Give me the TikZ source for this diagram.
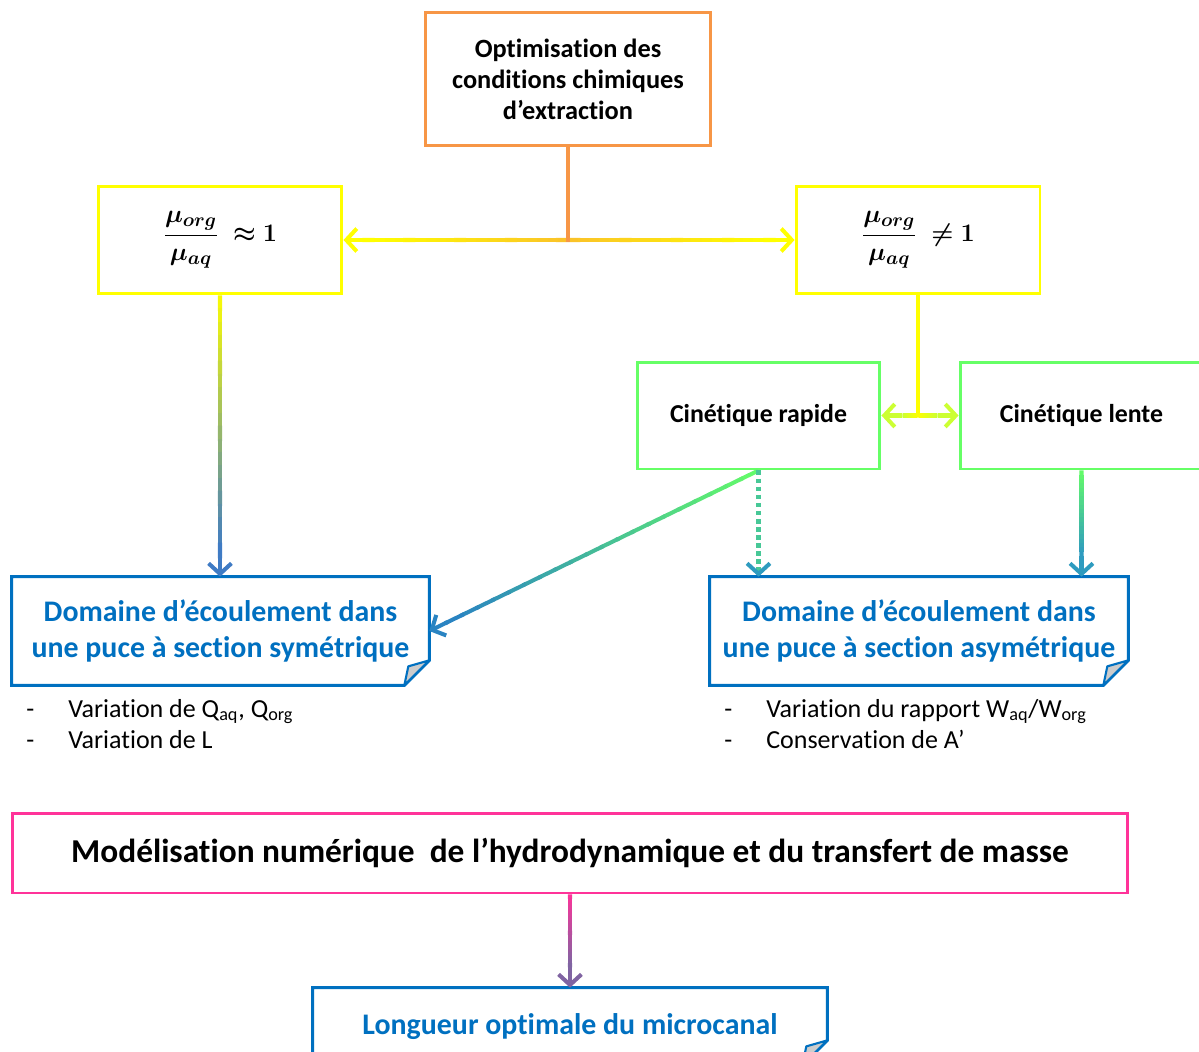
\documentclass[tikz,border=0pt]{standalone}
\usepackage{amsmath,amssymb}
\usepackage[no-math]{fontspec}
\setmainfont{Carlito}[Ligatures={NoCommon}]
\usepackage{tikz}
\usetikzlibrary{arrows.meta, positioning, calc}

\definecolor{myorange}{HTML}{F79646}
\definecolor{myyellow}{HTML}{FFFF00}
\definecolor{mylime}{HTML}{CCFF33}
\definecolor{mygreen}{HTML}{66FF66}
\definecolor{myblue}{HTML}{0070C0}
\definecolor{steel}{HTML}{3F7BC4}
\definecolor{diagblue}{HTML}{2A84C2}
\definecolor{myteal}{HTML}{2E9BBF}
\definecolor{mypink}{HTML}{FF3399}
\definecolor{mypurple}{HTML}{8064A2}

% connector that fades from one colour to another
\newcommand{\gradarrow}[4]{%
  \coordinate (gtip) at ($(#2)!0.42cm!(#1)$);
  \foreach \k in {1,...,20}{%
    \pgfmathsetmacro{\fa}{(\k-1)/20}%
    \pgfmathsetmacro{\fb}{\k/20+0.01}%
    \pgfmathtruncatemacro{\mix}{100*\k/20}%
    \draw[conn, #4!\mix!#3] ($(#1)!\fa!(gtip)$) -- ($(#1)!\fb!(gtip)$);
  }%
  \draw[conn, tip, #4] (gtip) -- (#2);
}
% note border with folded corner
\newcommand{\dogear}[1]{%
  \draw[noteline] (#1.north west) -- (#1.north east) -- ([yshift=0.5cm]#1.south east)
    -- ([xshift=-0.5cm]#1.south east) -- (#1.south west) -- cycle;
  \filldraw[fold] ([yshift=0.5cm]#1.south east) -- ([xshift=-0.5cm]#1.south east)
    -- ([xshift=-0.42cm,yshift=0.38cm]#1.south east) -- cycle;
}
\newcommand{\ratio}{\displaystyle\boldsymbol{\frac{\mu_{org}}{\mu_{aq}}}}

\begin{document}
\begin{tikzpicture}[x=0.02cm, y=-0.02cm,
    conn/.style={line width=2.3pt},
    tip/.style={-{Straight Barb[length=6pt,width=13pt]}},
    startbox/.style={draw=myorange, line width=1.7pt, minimum width=5.72cm,
                     minimum height=2.68cm, align=center,
                     font=\fontsize{15}{17.6}\selectfont\bfseries},
    ratiobox/.style={draw=myyellow, line width=1.7pt, minimum width=4.88cm,
                     minimum height=2.16cm, font=\fontsize{15}{17}\selectfont},
    kinbox/.style={draw=mygreen, line width=1.7pt, minimum width=4.86cm,
                   minimum height=2.14cm, font=\fontsize{14.7}{16}\selectfont\bfseries},
    notebox/.style={minimum height=2.16cm, align=center, text=myblue,
                    font=\fontsize{17}{20.4}\selectfont\bfseries},
    noteline/.style={draw=myblue, line width=1.7pt, line join=miter},
    fold/.style={draw=myblue, fill=gray!40, line width=1.2pt, line join=round},
    modelbox/.style={draw=mypink, line width=1.7pt, minimum width=22.32cm,
                     minimum height=1.6cm, font=\fontsize{19}{22}\selectfont\bfseries},
    listtxt/.style={anchor=west, align=left, inner sep=0pt,
                    font=\fontsize{14.8}{18}\selectfont}
  ]
  \useasboundingbox (0,0) rectangle (1199,1051);
  \clip (0,0) rectangle (1199,1051);

  % Boxes
  \node[startbox] (opt) at (568,79) {Optimisation des\\conditions chimiques\\d’extraction};
  \node[ratiobox] (rsim) at (220,240)
    {\raisebox{-3pt}{$\ratio\;\boldsymbol{\approx}\mathbf{1}$}};
  \node[ratiobox] (rdif) at (918,240)
    {\raisebox{-3pt}{$\ratio\;\boldsymbol{\neq}\mathbf{1}$}};
  \node[kinbox] (kfast) at (758.5,415.5) {Cinétique rapide};
  \node[kinbox] (kslow) at (1081.5,415.5) {Cinétique lente};

  \node[notebox, minimum width=8.34cm] (dsym) at (220.5,631)
    {Domaine d’écoulement dans\\une puce à section symétrique};
  \node[notebox, minimum width=8.36cm] (dasym) at (919,631)
    {Domaine d’écoulement dans\\une puce à section asymétrique};
  \dogear{dsym}
  \dogear{dasym}

  % Lists under the notes
  \node[listtxt] (lsym) at (26,724)
    {\makebox[0.84cm][l]{-}Variation de Q\textsubscript{aq}, Q\textsubscript{org}\\
     \makebox[0.84cm][l]{-}Variation de L};
  \node[listtxt] (lasym) at (724,724)
    {\makebox[0.84cm][l]{-}Variation du rapport W\textsubscript{aq}/W\textsubscript{org}\\
     \makebox[0.84cm][l]{-}Conservation de A’};

  \node[modelbox] (model) at (570,853)
    {Modélisation numérique\ \ de l’hydrodynamique et du transfert de masse};
  \node[notebox, minimum width=10.28cm, minimum height=1.54cm] (lopt) at (570,1026.5)
    {Longueur optimale du microcanal};
  \dogear{lopt}

  % Connectors
  \coordinate (jtop) at (opt.south |- rsim.east);
  \gradarrow{jtop}{rsim.east}{myorange!60!myyellow}{myyellow}
  \gradarrow{jtop}{rdif.west}{myorange!60!myyellow}{myyellow}
  \draw[conn, myorange] (opt.south) -- ([yshift=-1.1pt]jtop);

  \coordinate (jmid) at (rdif.south |- kfast.east);
  \draw[conn, myyellow] (rdif.south) -- (jmid);
  \gradarrow{jmid}{kfast.east}{myyellow}{mylime}
  \gradarrow{jmid}{kslow.west}{myyellow}{mylime}

  \coordinate (symtop) at (rsim.south |- dsym.north);
  \gradarrow{rsim.south}{symtop}{myyellow}{steel}
  \gradarrow{kfast.south}{dsym.east}{mygreen}{diagblue}

  \coordinate (fasttop) at (kfast.south |- dasym.north);
  \draw[conn, dash pattern=on 2.6pt off 2pt, mygreen!45!myteal,
        -{Straight Barb[length=6pt,width=13pt,color=myteal]}] (kfast.south) -- (fasttop);
  \coordinate (slowtop) at (kslow.south |- dasym.north);
  \gradarrow{kslow.south}{slowtop}{mygreen}{myteal}

  \gradarrow{model.south}{lopt.north}{mypink}{mypurple}

\end{tikzpicture}
\end{document}
